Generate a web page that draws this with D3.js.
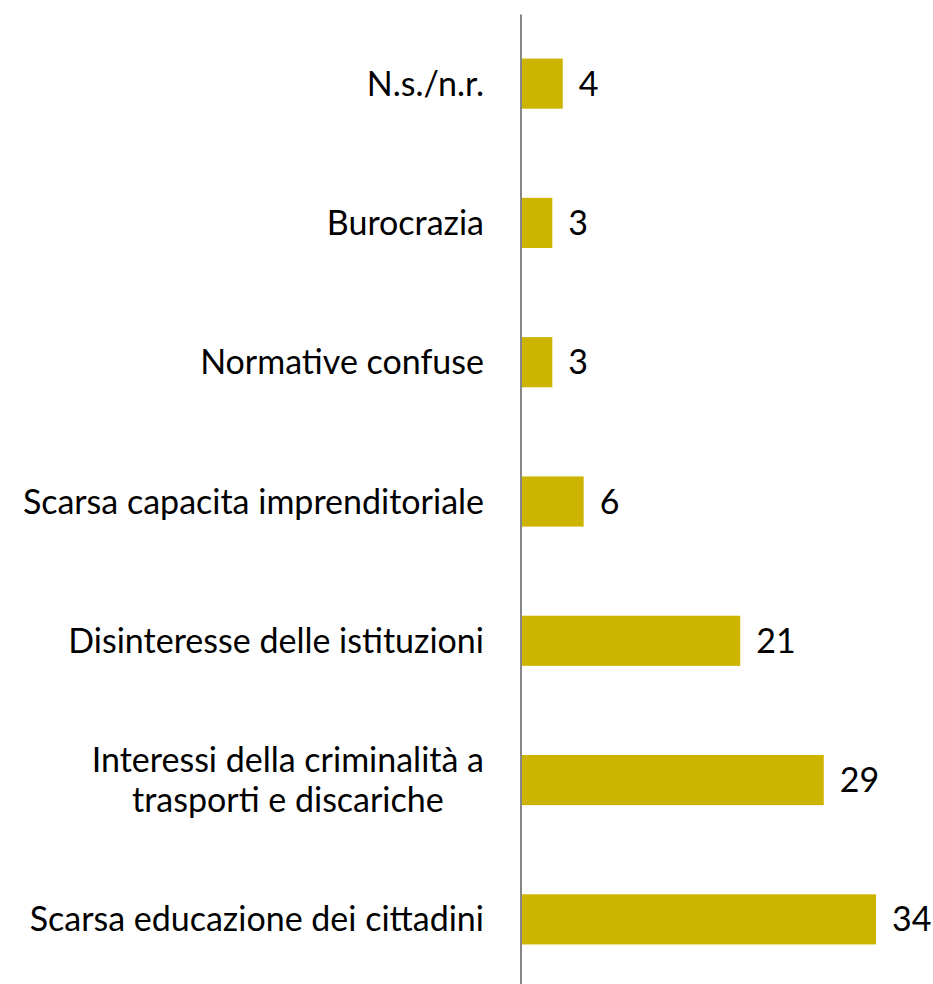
<!DOCTYPE html>
<html>
<head>
<meta charset="utf-8">
<script src="https://cdn.jsdelivr.net/npm/d3@7"></script>
<style>
  body { margin: 0; background: #fff; }
  text { font-family: Lato, "Open Sans", sans-serif; fill: #000; }
</style>
</head>
<body>
<div id="chart"></div>
<script>
// categories top to bottom, each label split into lines
var categories = [
    ["N.s./n.r."],
    ["Burocrazia"],
    ["Normative confuse"],
    ["Scarsa capacita imprenditoriale"],
    ["Disinteresse delle istituzioni"],
    ["Interessi della criminalità a", "trasporti e discariche"],
    ["Scarsa educazione dei cittadini"]
];
var values = [4, 3, 3, 6, 21, 29, 34];

var W = 933, H = 984;
var axisX = 521;
var fontSize = 34;

var svg = d3.select("#chart").append("svg")
    .attr("width", W)
    .attr("height", H);

var keys = categories.map(function(d, i) { return i; });

var yScale = d3.scaleBand()
    .domain(keys)
    .range([14, 989])
    .paddingInner(0.64)
    .paddingOuter(0.32);

var xScale = d3.scaleLinear()
    .domain([0, 34])
    .range([0, 355]);

// bars
svg.append("g").selectAll("rect")
    .data(values)
    .enter()
    .append("rect")
    .attr("x", axisX)
    .attr("y", function(d, i) { return yScale(i); })
    .attr("width", function(d) { return xScale(d); })
    .attr("height", yScale.bandwidth())
    .attr("fill", "#CDB400");

// vertical axis line
var yAxis = d3.axisLeft(yScale).tickSize(0).tickFormat("");
var ax = svg.append("g")
    .attr("transform", "translate(" + (axisX - 0.5) + ",0)")
    .call(yAxis);
ax.select(".domain").attr("stroke", "#878787").attr("stroke-width", 2);

// category labels (multi-line ones are centred on each other, right edge at 484)
var lineH = 40;
var labRight = 484;
var lab = svg.append("g").selectAll("text")
    .data(categories)
    .enter()
    .append("text")
    .attr("text-anchor", "middle")
    .attr("font-size", fontSize)
    .attr("y", function(d, i) { return yScale(i) + yScale.bandwidth() / 2; });

lab.selectAll("tspan")
    .data(function(d) { return d.map(function(t, j) { return { t: t, j: j, n: d.length }; }); })
    .enter()
    .append("tspan")
    .attr("x", 0)
    .attr("dy", function(d) {
        if (d.j === 0) return ((-(d.n - 1) / 2) * lineH + 12) + "px";
        return lineH + "px";
    })
    .text(function(d) { return d.t; });

lab.each(function() {
    var w = this.getBBox().width;
    d3.select(this).selectAll("tspan").attr("x", labRight - w / 2);
});

// value labels
svg.append("g").selectAll("text")
    .data(values)
    .enter()
    .append("text")
    .attr("font-size", fontSize)
    .attr("x", function(d) { return axisX + xScale(d) + 16; })
    .attr("y", function(d, i) { return yScale(i) + yScale.bandwidth() / 2 + 12; })
    .text(function(d) { return d; });
</script>
</body>
</html>
